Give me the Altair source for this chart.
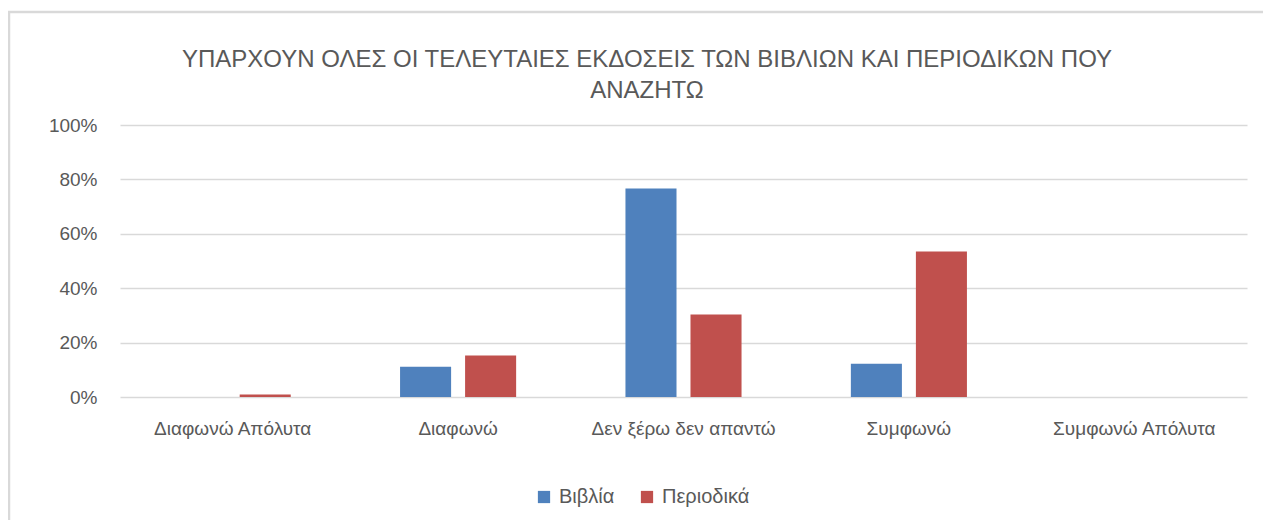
import altair as alt
import pandas as pd

categories = ["Διαφωνώ Απόλυτα", "Διαφωνώ", "Δεν ξέρω δεν απαντώ", "Συμφωνώ", "Συμφωνώ Απόλυτα"]
series_names = ["Βιβλία", "Περιοδικά"]
vivlia = [0.0, 0.111, 0.767, 0.122, 0.0]
periodika = [0.009, 0.153, 0.303, 0.535, 0.0]
colors = ["#4F81BD", "#C0504D"]
title_lines = ["ΥΠΑΡΧΟΥΝ ΟΛΕΣ ΟΙ ΤΕΛΕΥΤΑΙΕΣ ΕΚΔΟΣΕΙΣ ΤΩΝ ΒΙΒΛΙΩΝ ΚΑΙ ΠΕΡΙΟΔΙΚΩΝ ΠΟΥ", "ΑΝΑΖΗΤΩ"]
y_ticks = [0, 0.2, 0.4, 0.6, 0.8, 1.0]

rows = []
for c, v in zip(categories, vivlia):
    rows.append({"cat": c, "series": series_names[0], "value": v})
for c, v in zip(categories, periodika):
    rows.append({"cat": c, "series": series_names[1], "value": v})
df = pd.DataFrame(rows)

FONT = "Liberation Sans"
TXT = "#595959"
GRID = "#d9d9d9"

bars = alt.Chart(df).mark_bar().encode(
    x=alt.X("cat:N", sort=categories,
            scale=alt.Scale(paddingInner=0.485, paddingOuter=0.2425),
            axis=alt.Axis(title=None, labelAngle=0, labelFontSize=19, labelColor=TXT,
                          labelFont=FONT, labelPadding=22, labelLimit=400, ticks=False,
                          domain=False, grid=False)),
    xOffset=alt.XOffset("series:N", sort=series_names, scale=alt.Scale(paddingInner=0.215)),
    y=alt.Y("value:Q", scale=alt.Scale(domain=[0, 1]),
            axis=alt.Axis(title=None, values=y_ticks, format=".0%", labelFontSize=19,
                          labelColor=TXT, labelFont=FONT, labelPadding=23, ticks=False,
                          domain=False, grid=True, gridColor=GRID, gridWidth=1.3)),
    color=alt.Color("series:N", sort=series_names,
                    scale=alt.Scale(domain=series_names, range=colors),
                    legend=alt.Legend(title=None, orient="none", legendX=414, legendY=362,
                                      direction="horizontal", symbolType="square",
                                      symbolSize=150, symbolStrokeWidth=0, labelFontSize=20,
                                      labelColor=TXT, labelFont=FONT, labelOffset=5,
                                      columnPadding=22)),
)

one = pd.DataFrame({"a": [0]})
border_left = alt.Chart(one).mark_rule(color=GRID, strokeWidth=2.5).encode(
    x=alt.value(-111), y=alt.value(-113), y2=alt.value(420))
border_top = alt.Chart(one).mark_rule(color=GRID, strokeWidth=2.5).encode(
    x=alt.value(-112), x2=alt.value(1160), y=alt.value(-113))

title1 = alt.Chart(one).mark_text(font=FONT, fontSize=24, color=TXT, align="center",
                                  baseline="alphabetic").encode(
    x=alt.value(527), y=alt.value(-58), text=alt.value(title_lines[0]))
title2 = alt.Chart(one).mark_text(font=FONT, fontSize=24, color=TXT, align="center",
                                  baseline="alphabetic").encode(
    x=alt.value(527), y=alt.value(-27), text=alt.value(title_lines[1]))

chart = alt.layer(border_left, border_top, title1, title2, bars).properties(
    width=1127, height=272,
    autosize=alt.AutoSizeParams(type="none"),
    padding={"left": 112, "top": 117, "right": 16, "bottom": 123},
    background="white",
).configure_view(stroke=None)

chart.save("out.html", embed_options={"renderer": "svg", "actions": False})
